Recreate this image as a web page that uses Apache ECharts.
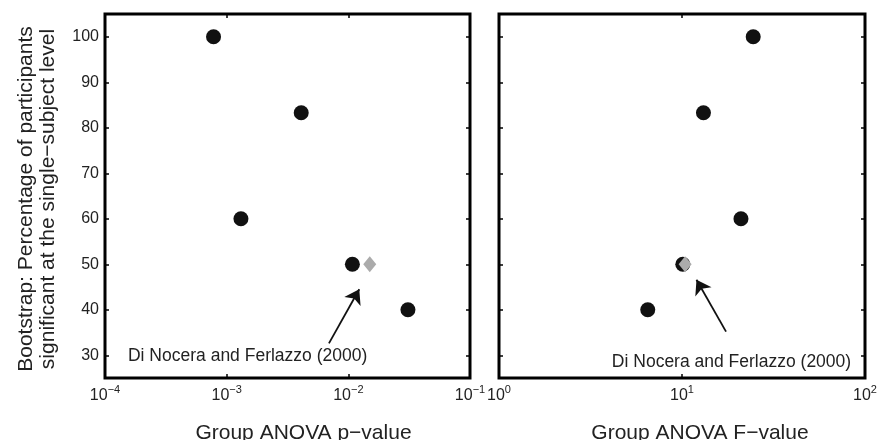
<!DOCTYPE html>
<html><head><meta charset="utf-8">
<script src="https://cdn.jsdelivr.net/npm/echarts@6/dist/echarts.min.js"></script>
<style>html,body{margin:0;padding:0;background:#fff}#c{width:877px;height:440px}</style>
</head><body><div id="c"></div>
<script>
// ---- data ----
const yTicks = [30, 40, 50, 60, 70, 80, 90, 100];
const pValues = [0.00078, 0.0041, 0.00131, 0.0108, 0.0309];
const pPercent = [100, 83.3, 60, 50, 40];
const fValues = [24.5, 13.1, 21.0, 10.1, 6.5];
const fPercent = [100, 83.3, 60, 50, 40];
const diNoceraP = [0.0150, 50];
const diNoceraF = [10.4, 50];
const noteText = 'Di Nocera and Ferlazzo (2000)';
const arrowP = [[0.00693, 32.6], [0.0123, 44.5]];
const arrowF = [[17.4, 35.2], [12.0, 46.6]];
const noteP = [1.545e-4, 29.8];
const noteF = [84.0, 28.4];
const xNameP = 'Group ANOVA p\u2212value';
const xNameF = 'Group ANOVA F\u2212value';
const yName = 'Bootstrap: Percentage of participants\nsignificant at the single\u2212subject level';

const FONT = "'Liberation Sans', Arial, sans-serif";
const TXT = '#222';
const zip = (a, b) => a.map((v, i) => [v, b[i]]);

function logFmt(v) {
  const e = Math.round(Math.log10(v));
  return '{b|10}{s|' + (e < 0 ? '\u2212' + (-e) : e) + '}';
}
const richLab = {
  b: { fontSize: 16, lineHeight: 16, color: TXT, fontFamily: FONT },
  s: { fontSize: 11, lineHeight: 11, padding: [0, 0, 12, 0], color: TXT, fontFamily: FONT }
};
const tick = { show: true, inside: true, length: 4, lineStyle: { color: '#000', width: 1.5 } };

function xAx(grid, min, max, pos, name, padL) {
  const o = {
    gridIndex: grid, type: 'log', logBase: 10, min: min, max: max, position: pos,
    axisLine: { show: false }, axisTick: tick, splitLine: { show: false },
    minorTick: { show: false }, minorSplitLine: { show: false }
  };
  if (pos === 'bottom') {
    o.axisLabel = { show: true, formatter: logFmt, rich: richLab, margin: 9.5, showMinLabel: true, showMaxLabel: true };
    o.name = name; o.nameLocation = 'middle'; o.nameGap = 45;
    o.nameTextStyle = { fontSize: 21, color: TXT, fontFamily: FONT, padding: [0, 0, 0, padL] };
  } else {
    o.axisLabel = { show: false };
  }
  return o;
}
function yAx(grid, pos, labels, name) {
  const o = {
    gridIndex: grid, type: 'value', min: 25, max: 105, position: pos,
    axisLine: { show: false }, splitLine: { show: false },
    axisTick: Object.assign({ customValues: yTicks }, tick),
    axisLabel: labels ? { show: true, customValues: yTicks, fontSize: 16, color: TXT, fontFamily: FONT, margin: 6 } : { show: false }
  };
  if (name) {
    o.name = name; o.nameLocation = 'middle'; o.nameRotate = 90; o.nameGap = 46;
    o.nameTextStyle = { fontSize: 21, lineHeight: 22, color: TXT, fontFamily: FONT, align: 'center', padding: [0, 6, 0, 0] };
  }
  return o;
}
function arrowLine(a) {
  return {
    silent: true, animation: false, symbol: ['none', 'arrow'], symbolSize: 14,
    lineStyle: { color: '#111', width: 1.8, type: 'solid', opacity: 1 }, label: { show: false },
    itemStyle: { color: '#111' },
    emphasis: { disabled: true },
    data: [[{ coord: a[0] }, { coord: a[1] }]]
  };
}
function note(c, pos) {
  return {
    silent: true, animation: false, symbol: 'circle', symbolSize: 0,
    label: { show: true, position: pos, distance: 0, formatter: noteText, fontSize: 17.5, color: TXT, fontFamily: FONT },
    data: [{ coord: c }]
  };
}

const chart = echarts.init(document.getElementById('c'), null, { renderer: 'canvas' });
const gridBase = { top: 14, bottom: 62, show: true, borderColor: '#000', borderWidth: 3,
  backgroundColor: 'transparent', containLabel: false, outerBoundsMode: 'none' };
chart.setOption({
  animation: false,
  backgroundColor: '#fff',
  textStyle: { fontFamily: FONT },
  grid: [
    Object.assign({ left: 105, right: 407 }, gridBase),
    Object.assign({ left: 499, right: 12 }, gridBase)
  ],
  xAxis: [
    xAx(0, 1e-4, 1e-1, 'bottom', xNameP, 32),
    xAx(0, 1e-4, 1e-1, 'top'),
    xAx(1, 1, 100, 'bottom', xNameF, 36),
    xAx(1, 1, 100, 'top')
  ],
  yAxis: [
    yAx(0, 'left', true, yName),
    yAx(0, 'right', false),
    yAx(1, 'left', false),
    yAx(1, 'right', false)
  ],
  series: [
    { type: 'scatter', xAxisIndex: 0, yAxisIndex: 0, symbol: 'circle', symbolSize: 15,
      itemStyle: { color: '#111', opacity: 1 }, data: zip(pValues, pPercent),
      markLine: arrowLine(arrowP), markPoint: note(noteP, 'right') },
    { type: 'scatter', xAxisIndex: 0, yAxisIndex: 0, symbol: 'diamond', symbolSize: [13, 16],
      itemStyle: { color: '#ababab', opacity: 1 }, data: [diNoceraP] },
    { type: 'scatter', xAxisIndex: 2, yAxisIndex: 2, symbol: 'circle', symbolSize: 15,
      itemStyle: { color: '#111', opacity: 1 }, data: zip(fValues, fPercent),
      markLine: arrowLine(arrowF), markPoint: note(noteF, 'left') },
    { type: 'scatter', xAxisIndex: 2, yAxisIndex: 2, symbol: 'diamond', symbolSize: [13, 16],
      itemStyle: { color: '#ababab', opacity: 1 }, data: [diNoceraF] }
  ]
});
</script>
</body></html>
